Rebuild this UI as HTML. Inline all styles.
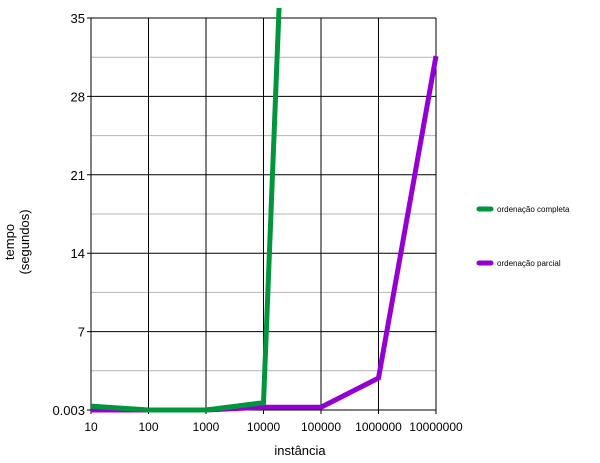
<!DOCTYPE html>
<html><head><meta charset="utf-8"><style>
body{margin:0;background:#fff;}
svg{display:block;font-family:"Liberation Sans",sans-serif;}
</style></head><body>
<svg id="c" width="600" height="463">
<defs><clipPath id="clip"><rect x="86" y="8" width="356" height="408"/></clipPath></defs>
<g id="grid"></g>
<g id="axes"></g>
<g id="series" clip-path="url(#clip)"></g>
<text x="300" y="455" font-size="13" text-anchor="middle">instância</text>
<text transform="translate(22,242) rotate(-90)" font-size="13" text-anchor="middle"><tspan x="0" dy="-8">tempo</tspan><tspan x="0" dy="15">(segundos)</tspan></text>
<g>
<g><line x1="479" y1="209" x2="491" y2="209" stroke="#00963c" stroke-width="5" stroke-linecap="round"/><text x="497" y="212" font-size="8">ordenação completa</text></g>
<g><line x1="479" y1="263" x2="491" y2="263" stroke="#9400d3" stroke-width="5" stroke-linecap="round"/><text x="497" y="266" font-size="8">ordenação parcial</text></g>
</g>
</svg>
<script>
const categories=["10","100","1000","10000","100000","1000000","10000000"];
const completa=[0.35,0,0,0.65,131];
const parcial=[0,0,0,0.25,0.25,2.85,31.6];
const yTicks=[0,7,14,21,28,35];
const yTickLabels=["0.003","7","14","21","28","35"];
const NS="http://www.w3.org/2000/svg";
const x0=91,x1=436,y0=410,y1=18,ymax=35;
const xs=i=>x0+i*(x1-x0)/(categories.length-1);
const ys=v=>y0-(v/ymax)*(y0-y1);
function mk(t,a,p){const e=document.createElementNS(NS,t);for(const k in a)e.setAttribute(k,a[k]);p.appendChild(e);return e;}
const grid=document.getElementById('grid'),axes=document.getElementById('axes'),ser=document.getElementById('series');
for(let i=0;i<yTicks.length-1;i++){const m=(yTicks[i]+yTicks[i+1])/2;
const g=mk('line',{x1:x0,x2:x1,y1:ys(m),y2:ys(m),stroke:'#b3b3b3','stroke-width':1},grid);

}
yTicks.forEach((v,i)=>{const l=mk('line',{x1:x0-4,x2:x1,y1:ys(v),y2:ys(v),stroke:'#000','stroke-width':1},grid);


const t=mk('text',{x:x0-6,y:ys(v)+5,'font-size':13,'text-anchor':'end'},axes);t.textContent=yTickLabels[i];

});
categories.forEach((c,i)=>{const l=mk('line',{x1:xs(i),x2:xs(i),y1:y1,y2:y0+4,stroke:'#000','stroke-width':1},grid);


const t=mk('text',{x:xs(i),y:431,'font-size':12,'text-anchor':'middle'},axes);t.textContent=c;

});
function line(d,col,name){const p=mk('polyline',{points:d.map((v,i)=>xs(i)+','+ys(v)).join(' '),fill:'none',stroke:col,'stroke-width':5,'stroke-linejoin':'miter'},ser);

}
line(parcial,'#9400d3','line-ordenacao-parcial');
line(completa,'#00963c','line-ordenacao-completa');
</script>
</body></html>
